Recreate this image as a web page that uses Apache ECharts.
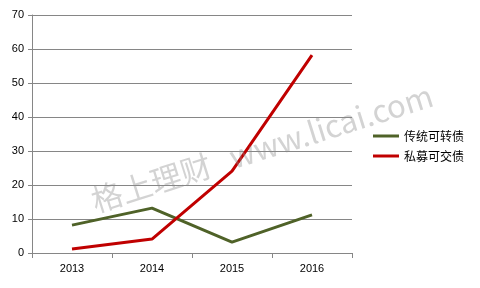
<!DOCTYPE html>
<html><head><meta charset="utf-8">
<script src="https://cdn.jsdelivr.net/npm/echarts@6/dist/echarts.min.js"></script>
<style>html,body{margin:0;padding:0;background:#fff}#c{width:480px;height:288px}</style>
</head><body><div id="c"></div>
<script>
const categories = ['2013','2014','2015','2016'];
const seriesNames = ['传统可转债','私募可交债'];
const traditional = [8.2, 13.2, 3.2, 11.2];
const privatePlacement = [1.2, 4.1, 24.1, 58.2];
const yTicks = [0,10,20,30,40,50,60,70];

const chart = echarts.init(document.getElementById('c'));
const font = "'Noto Sans CJK SC', 'DejaVu Sans', sans-serif";
chart.setOption({
  animation:false,
  backgroundColor:'#fff',
  grid:{left:32,right:128,top:15,bottom:35},
  legend:{
    orient:'vertical', left:368, top:125, itemGap:8,
    icon:'rect', itemWidth:26, itemHeight:3,
    textStyle:{fontFamily:font,fontSize:12,color:'#000'},
    data:seriesNames
  },
  xAxis:{
    type:'category', data:categories, boundaryGap:true,
    axisLine:{lineStyle:{color:'#868686'}},
    axisTick:{show:true,length:5,lineStyle:{color:'#868686'}},
    axisLabel:{color:'#000',fontSize:11,fontFamily:'Arial, Liberation Sans',margin:10}
  },
  yAxis:{
    type:'value', min:yTicks[0], max:yTicks[yTicks.length-1], interval:10,
    axisLine:{show:true,lineStyle:{color:'#868686'}},
    axisTick:{show:true,length:4,lineStyle:{color:'#868686'}},
    axisLabel:{color:'#000',fontSize:11,fontFamily:'Arial, Liberation Sans',margin:8},
    splitLine:{lineStyle:{color:'#868686'}}
  },
  graphic:[{
    type:'text',
    rotation: 17.5*Math.PI/180,
    style:{text:'格上理财   www.licai.com', fill:'rgba(140,140,140,0.38)', font:"31px 'Noto Sans CJK SC', sans-serif", align:'center', verticalAlign:'middle'},
    position:[262,148], z:100
  }],
  series:[
    {name:seriesNames[0],type:'line',data:traditional,symbol:'none',lineStyle:{width:3,color:'#4F6228'},itemStyle:{color:'#4F6228'}},
    {name:seriesNames[1],type:'line',data:privatePlacement,symbol:'none',lineStyle:{width:3,color:'#C00000'},itemStyle:{color:'#C00000'}}
  ]
});
</script></body></html>
